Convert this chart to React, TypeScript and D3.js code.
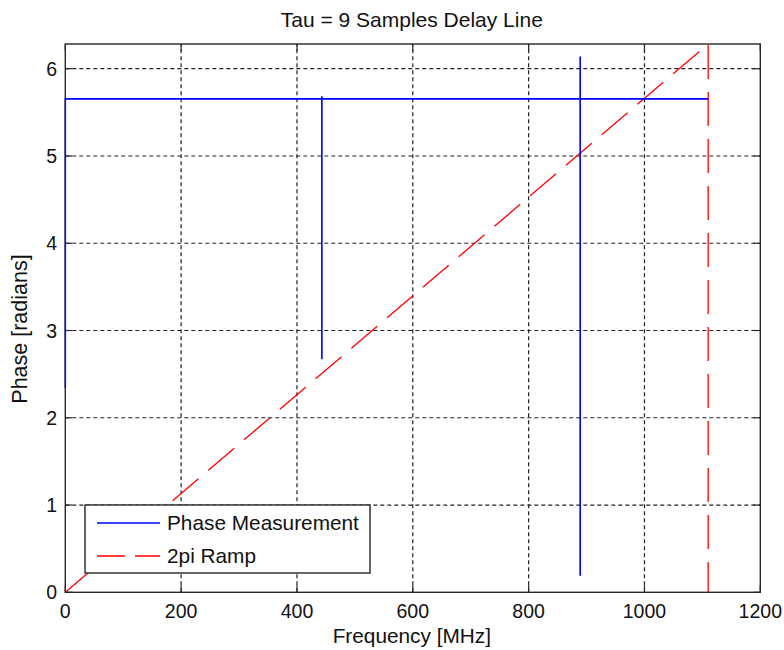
import React from "react";
import * as d3 from "d3";

const xTicks = [0, 200, 400, 600, 800, 1000, 1200];
const yTicks = [0, 1, 2, 3, 4, 5, 6];
const phaseFreq = [0, 0, 443, 443, 443, 443, 889, 889, 889, 889, 1110];
const phaseVal = [2.34, 5.654, 5.654, 5.685, 2.67, 5.654, 5.654, 6.14, 0.19, 5.654, 5.654];
const rampFreq = [0, 1110, 1110];
const rampVal = [0, 2 * Math.PI, 0];
const legendLabels = ["Phase Measurement", "2pi Ramp"];
const title = "Tau = 9 Samples Delay Line";
const xLabel = "Frequency [MHz]";
const yLabel = "Phase [radians]";

const W = 784, H = 650;
const L = 65.3, R = 760.3, T = 44, B = 592.3;
const FONT = "Arial, 'Liberation Sans', Helvetica, sans-serif";

export default function App() {
  const x = d3.scaleLinear().domain([0, 1200]).range([L, R]);
  const y = d3.scaleLinear().domain([0, 2 * Math.PI]).range([B, T]);
  const phasePath = d3
    .line<number>()
    .x((_, i) => x(phaseFreq[i]))
    .y((d) => y(d))(phaseVal) as string;
  const rampPath = d3
    .line<number>()
    .x((_, i) => x(rampFreq[i]))
    .y((d) => y(d))(rampVal) as string;
  const axisColor = "#262626";
  const tickLen = 7;
  return (
    <svg width={W} height={H} style={{ position: "absolute", left: 0, top: 0, background: "#fff" }} fontFamily={FONT}>
      <rect x={0} y={0} width={W} height={H} fill="#fff" />
      {/* grid */}
      {xTicks.slice(1, -1).map((t) => (
        <line key={"gx" + t} x1={x(t)} x2={x(t)} y1={B} y2={T} stroke="#222" strokeDasharray="4,3" strokeWidth={1.2} />
      ))}
      {yTicks.slice(1).map((t) => (
        <line key={"gy" + t} x1={L} x2={R} y1={y(t)} y2={y(t)} stroke="#222" strokeDasharray="4,3" strokeWidth={1.2} />
      ))}
      {/* ticks */}
      {xTicks.map((t) => (
        <g key={"tx" + t}>
          <line x1={x(t)} x2={x(t)} y1={B} y2={B - tickLen} stroke={axisColor} strokeWidth={1.2} />
          <line x1={x(t)} x2={x(t)} y1={T} y2={T + tickLen} stroke={axisColor} strokeWidth={1.2} />
          <text x={x(t)} y={618} textAnchor="middle" fontSize={19.5} fill="#111">{t}</text>
        </g>
      ))}
      {yTicks.map((t) => (
        <g key={"ty" + t}>
          <line x1={L} x2={L + tickLen} y1={y(t)} y2={y(t)} stroke={axisColor} strokeWidth={1.2} />
          <line x1={R} x2={R - tickLen} y1={y(t)} y2={y(t)} stroke={axisColor} strokeWidth={1.2} />
          <text x={57} y={y(t)} dy="0.36em" textAnchor="end" fontSize={19.5} fill="#111">{t}</text>
        </g>
      ))}
      {/* data */}
      <path d={rampPath} fill="none" stroke="#ff0000" strokeWidth={1.3} strokeDasharray="34,13" />
      <path d={phasePath} fill="none" stroke="#0000ff" strokeWidth={1.6} />
      {/* box */}
      <rect x={L} y={T} width={R - L} height={B - T} fill="none" stroke={axisColor} strokeWidth={1.4} />
      {/* legend */}
      <rect x={85} y={505} width={285} height={68} fill="#fff" stroke={axisColor} strokeWidth={1.4} />
      <line x1={97} x2={160} y1={523} y2={523} stroke="#0000ff" strokeWidth={1.6} />
      <line x1={97} x2={160} y1={556} y2={556} stroke="#ff0000" strokeWidth={1.3} strokeDasharray="28,10" />
      <text x={167} y={530} fontSize={20.8} fill="#111">{legendLabels[0]}</text>
      <text x={167} y={563} fontSize={20.8} fill="#111">{legendLabels[1]}</text>
      {/* labels */}
      <text x={(L + R) / 2 - 1} y={26.5} textAnchor="middle" fontSize={21} fill="#111">{title}</text>
      <text x={(L + R) / 2 - 1} y={643} textAnchor="middle" fontSize={20.8} fill="#111">{xLabel}</text>
      <text transform={`translate(27,329) rotate(-90)`} textAnchor="middle" fontSize={21.5} fill="#111">{yLabel}</text>
    </svg>
  );
}
